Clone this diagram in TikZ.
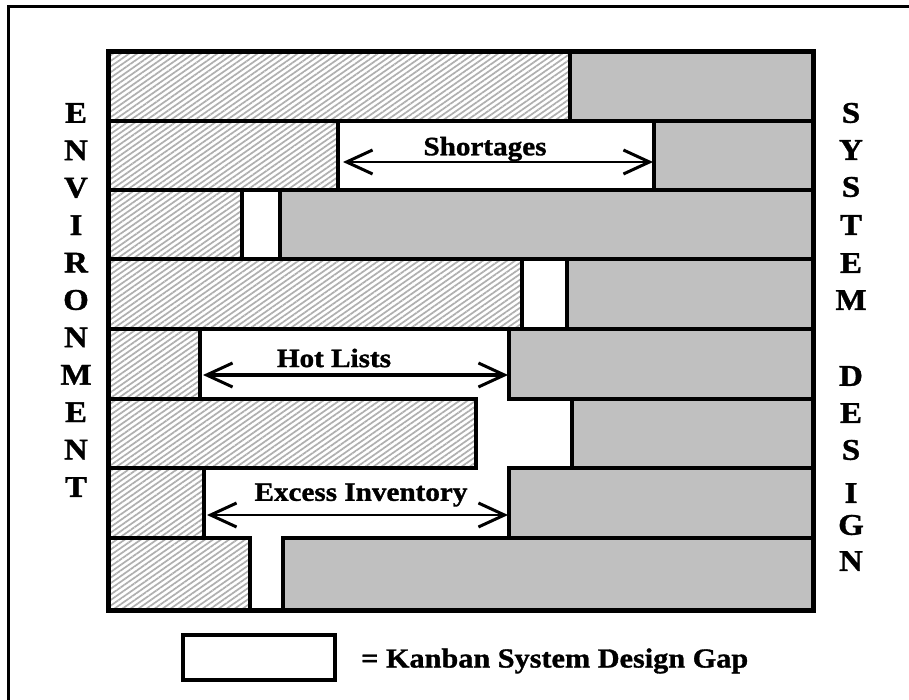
\documentclass[tikz,border=0pt]{standalone}
\usepackage{fontspec}
\setmainfont{Liberation Serif}[FakeStretch=1.1]
\newfontfamily\heavyfont{Liberation Serif Bold}[FakeStretch=1.1, FakeBold=1.2]
\usetikzlibrary{patterns.meta,arrows.meta}
\definecolor{bargrey}{RGB}{192,192,192}
\definecolor{hatchgrey}{RGB}{175,175,175}
\begin{document}
\begin{tikzpicture}[x=1pt,y=-1pt,
  envbar/.style={draw=black, line width=3.5pt, pattern={Lines[angle=35,distance=4.6pt,line width=1.7pt]}, pattern color=hatchgrey},
  sysbar/.style={draw=black, line width=3.5pt, fill=bargrey},
  gaparrow/.style={{Straight Barb[length=26pt,width=24pt,line width=3pt]}-{Straight Barb[length=26pt,width=24pt,line width=3pt]}, line width=2.5pt},
  lbl/.style={font=\fontsize{26.5}{30}\heavyfont, inner sep=0pt},
  legendlbl/.style={font=\fontsize{27.5}{30}\heavyfont, inner sep=0pt},
  bigletter/.style={font=\fontsize{30}{32}\heavyfont, inner sep=0pt},
  legendbox/.style={draw=black, line width=3.5pt, fill=white, minimum width=152pt, minimum height=45pt, inner sep=0pt}]
\useasboundingbox (0,0) rectangle (909,700);
\fill[white] (0,0) rectangle (909,700);
% outer frame
\draw[line width=3pt] (8,701) -- (8,7) -- (910,7);
% rows: top, bottom, hatch end, grey start
\foreach \t/\b/\h/\g [count=\i] in {52/121/570/570, 121/190/338/654, 190/259/242/280, 259/329/522/567, 329/399/200/509, 399/468/476/572, 468/538/204/509, 538/610/250/283}{
  \draw[envbar] (108,\t) rectangle (\h,\b);
  \draw[sysbar] (\g,\t) rectangle (813,\b);
}
% chart border
\draw[line width=5pt] (108,52) rectangle (813,610);
% gap arrows
\coordinate (sA) at (343,162);
\coordinate (sB) at (653,162);
\coordinate (hA) at (203,375);
\coordinate (hB) at (508,375);
\coordinate (xA) at (207,515);
\coordinate (xB) at (508,515);
\draw[gaparrow] (sA) -- (sB);
\draw[gaparrow, line width=3.5pt] (hA) -- (hB);
\draw[gaparrow] (xA) -- (xB);
\node[lbl] (shortages) at (485,149) {Shortages};
\node[lbl] (hotlists) at (334,358) {Hot Lists};
\node[lbl] (excess) at (361,495) {Excess Inventory};
% side letters
\foreach \l/\y [count=\i] in {E/113, N/150.4, V/187.8, I/225.2, R/262.6, O/300, N/337.4, M/374.8, E/412.2, N/449.6, T/487}{
  \node[bigletter] (env\i) at (76,\y) {\l};
}
\foreach \l/\y [count=\i] in {S/113, Y/150, S/187, T/225, E/263, M/300, D/376, E/413, S/450, I/493, G/525, N/561}{
  \node[bigletter] (sys\i) at (851,\y) {\l};
}
% legend
\node[legendbox] (legend) at (259,657.5) {};
\node[legendlbl, anchor=west] (legendtext) at (361,661) {= Kanban System Design Gap};
\end{tikzpicture}
\end{document}
